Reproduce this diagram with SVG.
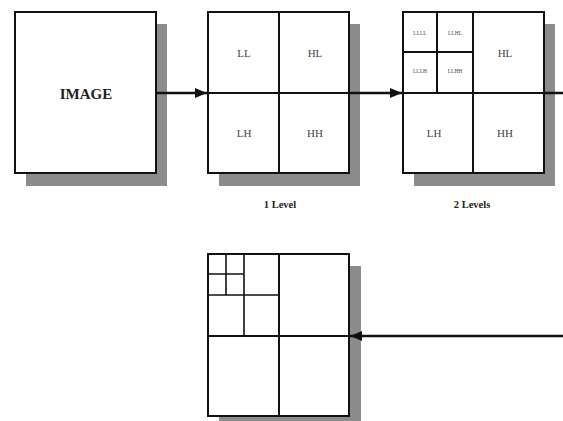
<svg xmlns="http://www.w3.org/2000/svg" width="563" height="421" viewBox="0 0 563 421">
<style>
.shadow{fill:#8c8c8c}
.box{fill:#fff;stroke:#111;stroke-width:2}
.div{stroke:#111;stroke-width:2;fill:none}
.thin{stroke:#111;stroke-width:1.6;fill:none}
.lbl{font-family:"Liberation Serif",serif;font-size:11px;fill:#444;text-anchor:middle}
.tiny{font-family:"Liberation Serif",serif;font-size:5.5px;fill:#444;text-anchor:middle}
.title{font-family:"Liberation Serif",serif;font-weight:bold;font-size:15px;fill:#222;text-anchor:middle}
.cap{font-family:"Liberation Serif",serif;font-weight:bold;font-size:10.5px;fill:#222;text-anchor:middle}
.conn{stroke:#111;stroke-width:2.5;fill:none}
</style>
<defs>
<marker id="ah" markerWidth="12" markerHeight="10" refX="12" refY="5" orient="auto" markerUnits="userSpaceOnUse">
<path d="M0,0 L12,5 L0,10 Z" fill="#111"/>
</marker>
</defs>
<g id="image">
<rect class="shadow" x="26" y="24" width="141" height="162"/>
<rect class="box" x="15" y="12" width="141" height="161"/>
<text class="title" x="86" y="99">IMAGE</text>
</g>
<g id="level1">
<rect class="shadow" x="219" y="24" width="141" height="162"/>
<rect class="box" x="208" y="12" width="141" height="161"/>
<path class="div" d="M279,12 V173 M208,93 H349"/>
<text class="lbl" x="244" y="57">LL</text>
<text class="lbl" x="315" y="57">HL</text>
<text class="lbl" x="244" y="137">LH</text>
<text class="lbl" x="315" y="137">HH</text>
<text class="cap" x="280" y="208">1 Level</text>
</g>
<g id="level2">
<rect class="shadow" x="414" y="24" width="141" height="162"/>
<rect class="box" x="403" y="12" width="141" height="161"/>
<path class="div" d="M473,12 V173 M403,93 H544 M437,12 V93 M403,52 H473"/>
<text class="tiny" x="420" y="35">LLLL</text>
<text class="tiny" x="455" y="35">LLHL</text>
<text class="tiny" x="420" y="73">LLLH</text>
<text class="tiny" x="455" y="73">LLHH</text>
<text class="lbl" x="505" y="57">HL</text>
<text class="lbl" x="434" y="137">LH</text>
<text class="lbl" x="505" y="137">HH</text>
<text class="cap" x="472" y="208">2 Levels</text>
</g>
<g id="level3">
<rect class="shadow" x="219" y="266" width="142" height="162"/>
<rect class="box" x="208" y="254" width="141" height="162"/>
<path class="div" d="M279,254 V416 M208,336 H349"/>
<path class="thin" d="M244,254 V336 M208,295 H279 M226,254 V295 M208,274 H244"/>
</g>
<g id="connectors">
<line class="conn" x1="156" y1="93" x2="207" y2="93" marker-end="url(#ah)"/>
<line class="conn" x1="349" y1="93" x2="402" y2="93" marker-end="url(#ah)"/>
<line class="conn" x1="544" y1="93" x2="563" y2="93"/>
<line class="conn" x1="563" y1="336" x2="350" y2="336" marker-end="url(#ah)"/>
</g>
</svg>
